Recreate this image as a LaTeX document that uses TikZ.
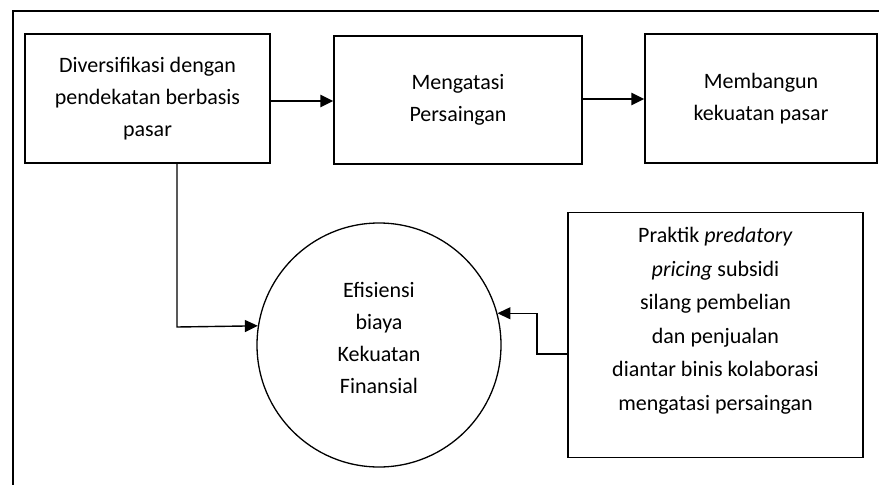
\documentclass[tikz,border=0pt]{standalone}
\usepackage{fontspec}
\setmainfont{Carlito}
\usetikzlibrary{arrows.meta,calc}
\begin{document}
\begin{tikzpicture}[x=1pt,y=-1pt,
  txt/.style={font=\fontsize{22}{32}\selectfont, align=center},
  boxnode/.style={draw, line width=1.3pt, rectangle, inner sep=0pt, txt},
  heavy/.style={line width=2.6pt, -{Triangle[length=13pt,width=12pt]}},
  light/.style={line width=1.4pt, -{Triangle[length=13pt,width=12pt]}}]
\useasboundingbox (0,0) rectangle (879,485);
\draw[line width=2pt] (13,485) -- (13,11) -- (879,11);
\node[boxnode, minimum width=245pt, minimum height=129pt] (b1) at (147.5,98.5)
  {Diversifikasi dengan\\pendekatan berbasis\\pasar};
\node[boxnode, minimum width=248pt, minimum height=128pt] (b2) at (458,100)
  {Mengatasi\\Persaingan};
\node[boxnode, minimum width=232pt, minimum height=129pt] (b3) at (761,98.5)
  {Membangun\\kekuatan pasar};
\node[draw, line width=1.3pt, rectangle, minimum width=295pt, minimum height=245pt] (b4) at (715.5,335) {};
\node[txt, font=\fontsize{22}{33.5}\selectfont, anchor=north] (t4) at ($(b4.north)+(0,12)$)
  {Praktik \textit{predatory}\\\textit{pricing} subsidi\\silang pembelian\\dan penjualan\\diantar binis kolaborasi\\mengatasi persaingan};
\node[draw, circle, line width=1.3pt, minimum size=244pt, inner sep=0pt] (c) at (379,345) {};
\node[txt] (tc) at ($(c.center)+(0,-7)$)
  {Efisiensi\\biaya\\Kekuatan\\Finansial};
\draw[heavy] (b1.east |- 0,101) -- (b2.west |- 0,101);
\draw[heavy] (b2.east |- 0,99) -- (b3.west |- 0,99);
\coordinate (k1) at (177,327);
\draw[light] (k1 |- b1.south) -- (k1) -- (c.171.5);
\coordinate (k2) at (537,354);
\draw[light] (b4.west |- k2) -- (k2) |- (c.15.7);
\end{tikzpicture}
\end{document}
